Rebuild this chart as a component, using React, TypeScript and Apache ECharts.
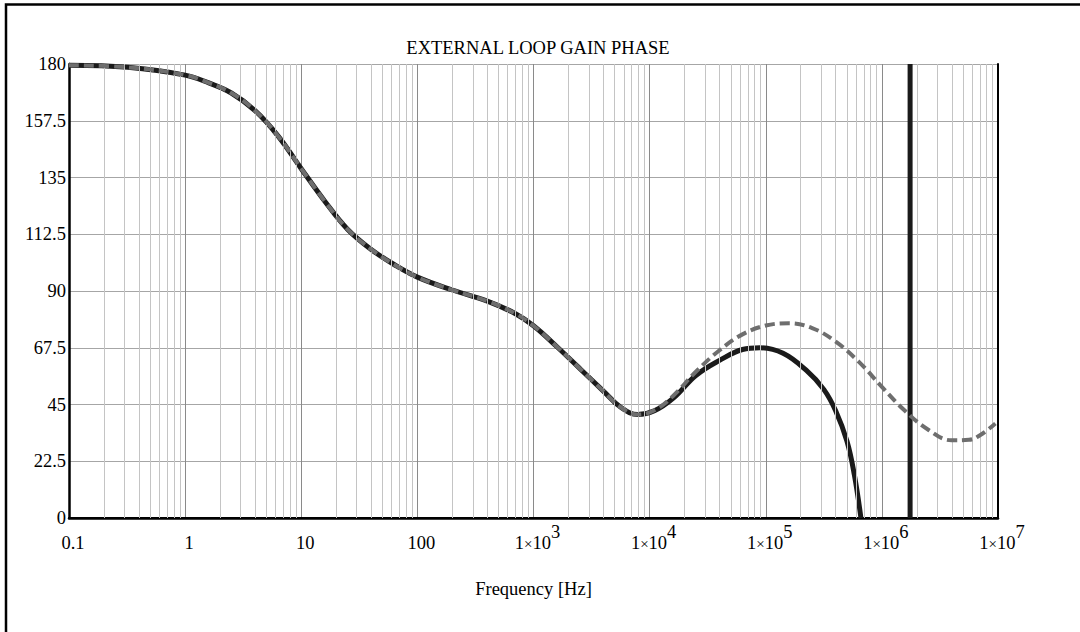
import React, { useEffect, useRef } from "react";
import * as echarts from "echarts";

// Frequency (Hz) and phase (degrees)
const solidFreq = [0.1, 0.32, 1, 1.6, 2.5, 4, 6.3, 10, 16, 25, 40, 63, 100, 200, 400, 700, 1000, 1600, 2500, 4000, 5600, 7900, 11000, 16000, 25000, 40000, 63000, 89000, 141000, 224000, 316000, 400000, 500000, 580000, 660000];
const solidPhase = [179.5, 178.7, 175.6, 172.5, 168.5, 161.5, 151.5, 138.5, 125.5, 114.5, 106.5, 100.5, 95.5, 90.4, 86, 81, 76.2, 67.8, 59.3, 50.3, 44, 41, 42.5, 47.5, 56.5, 62.5, 66.8, 67.5, 65.3, 58.5, 51, 42.5, 30.5, 17, 0];

const dashedFreq = [0.1, 0.32, 1, 1.6, 2.5, 4, 6.3, 10, 16, 25, 40, 63, 100, 200, 400, 700, 1000, 1600, 2500, 4000, 5600, 7900, 11000, 16000, 25000, 40000, 63000, 100000, 158000, 251000, 398000, 631000, 1000000, 1580000, 2510000, 3980000, 5620000, 7100000, 9500000];
const dashedPhase = [179.5, 178.7, 175.6, 172.5, 168.5, 161.5, 151.5, 138.5, 125.5, 114.5, 106.5, 100.5, 95.5, 90.4, 86, 81, 76.2, 67.8, 59.3, 50.3, 44, 41, 42.7, 48.5, 58, 66.5, 72.8, 76.3, 77.2, 75.3, 70, 62, 52, 42.5, 35, 30.8, 31, 33, 37.5];

const markerFreq = [1750000, 1750000];
const markerPhase = [0, 180];

const xDecadeExponents = [-1, 0, 1, 2, 3, 4, 5, 6, 7];
const xTickLabels = ["0.1", "1", "10", "100", "1×10^3", "1×10^4", "1×10^5", "1×10^6", "1×10^7"];
const minorMultipliers = [2, 3, 4, 5, 6, 7, 8, 9];

const FONT = "Liberation Serif";
const FS = 18.5;

export default function App() {
  const ref = useRef<HTMLDivElement>(null);
  useEffect(() => {
    if (!ref.current) return;
    const chart = echarts.init(ref.current, undefined, { renderer: "svg" });

    const minorLines: any[] = [];
    for (let e = -1; e < 7; e++) {
      for (const m of minorMultipliers) {
        minorLines.push({ xAxis: m * Math.pow(10, e) });
      }
    }

    const labelFor = (v: number) => {
      const e = Math.round(Math.log10(v));
      const idx = xDecadeExponents.indexOf(e);
      const lab = idx >= 0 ? xTickLabels[idx] : String(v);
      if (lab.indexOf("^") >= 0) {
        const [base, sup] = lab.split("^");
        const parts = base.split("×");
        return `{b|${parts[0]}}{x|×}{b|${parts[1]}}{s|${sup}}`;
      }
      return `{b|${lab}}`;
    };

    const grid = { left: 69, top: 64, width: 929, height: 454 };

    chart.setOption({
      animation: false,
      backgroundColor: "#ffffff",
      title: {
        text: "EXTERNAL LOOP GAIN PHASE",
        left: 533,
        top: 33,
        textAlign: "center",
        textStyle: { fontFamily: FONT, fontSize: FS, fontWeight: "normal", color: "#000" },
      },
      graphic: [
        {
          type: "polyline",
          shape: { points: [[6, 640], [6, 4.5], [1090, 4.5]] },
          style: { stroke: "#000", lineWidth: 2.5, fill: "none" },
          silent: true,
        },
      ],
      grid,
      xAxis: [
        {
          type: "log",
          logBase: 10,
          min: 0.1,
          max: 1e7,
          z: 0,
          name: "Frequency [Hz]",
          nameLocation: "middle",
          nameGap: 61,
          nameTextStyle: { fontFamily: FONT, fontSize: FS, color: "#000" },
          axisLine: { show: false },
          axisTick: { show: false },
          splitLine: { show: true, lineStyle: { color: "#8a8a8a", width: 1 } },
          axisLabel: {
            interval: 0,
            margin: 14,
            padding: [0, 0, 0, 8],
            formatter: labelFor,
            rich: {
              b: { fontFamily: FONT, fontSize: FS, color: "#000", verticalAlign: "bottom", lineHeight: 20 },
              x: { fontFamily: FONT, fontSize: 15, color: "#000", verticalAlign: "bottom", lineHeight: 18, padding: [0, 0, 1, 0] },
              s: { fontFamily: FONT, fontSize: FS, color: "#000", verticalAlign: "bottom", lineHeight: 20, padding: [0, 0, 11, 0] },
            },
          },
        },
        {
          type: "log",
          logBase: 10,
          min: 0.1,
          max: 1e7,
          position: "top",
          z: 1,
          axisLine: { show: true, lineStyle: { color: "#000", width: 2 } },
          axisTick: { show: false },
          axisLabel: { show: false },
          splitLine: { show: false },
        },
        {
          type: "log",
          logBase: 10,
          min: 0.1,
          max: 1e7,
          position: "bottom",
          z: 1,
          axisLine: { show: true, lineStyle: { color: "#000", width: 2.5 } },
          axisTick: { show: false },
          axisLabel: { show: false },
          splitLine: { show: false },
        },
      ],
      yAxis: [
        {
          type: "value",
          min: 0,
          max: 180,
          interval: 22.5,
          z: 0,
          axisLine: { show: false },
          axisTick: { show: false },
          splitLine: { show: true, lineStyle: { color: "#a6a6a6", width: 1 } },
          axisLabel: {
            margin: 3,
            padding: [8, 0, 0, 0],
            fontFamily: FONT,
            fontSize: FS,
            color: "#000",
          },
        },
        {
          type: "value",
          min: 0,
          max: 180,
          interval: 22.5,
          position: "right",
          z: 1,
          axisLine: { show: true, lineStyle: { color: "#000", width: 2 } },
          axisTick: { show: false },
          axisLabel: { show: false },
          splitLine: { show: false },
        },
        {
          type: "value",
          min: 0,
          max: 180,
          interval: 22.5,
          position: "left",
          z: 1,
          axisLine: { show: true, lineStyle: { color: "#000", width: 2.5 } },
          axisTick: { show: false },
          axisLabel: { show: false },
          splitLine: { show: false },
        },
      ],
      series: [
        {
          type: "line",
          name: "minor",
          z: 0,
          data: [],
          silent: true,
          markLine: {
            silent: true,
            symbol: "none",
            label: { show: false },
            lineStyle: { color: "#c4c4c4", width: 1, type: "solid" },
            data: minorLines,
          },
        },
        {
          type: "line",
          name: "loop",
          z: 3,
          showSymbol: false,
          smooth: 0.4,
          data: solidFreq.map((f, i) => [f, solidPhase[i]]),
          lineStyle: { color: "#1a1a1a", width: 5 },
        },
        {
          type: "line",
          name: "marker",
          z: 4,
          showSymbol: false,
          data: markerFreq.map((f, i) => [f, markerPhase[i]]),
          lineStyle: { color: "#1a1a1a", width: 5 },
        },
        {
          type: "line",
          name: "dashed",
          z: 5,
          showSymbol: false,
          smooth: 0.4,
          data: dashedFreq.map((f, i) => [f, dashedPhase[i]]),
          lineStyle: { color: "#6e6e6e", width: 4, type: [10, 5], cap: "butt" },
        },
      ],
    });
    return () => chart.dispose();
  }, []);
  return (
    <div
      ref={ref}
      style={{ position: "fixed", left: 0, top: 0, width: 1080, height: 632, background: "#fff" }}
    />
  );
}
